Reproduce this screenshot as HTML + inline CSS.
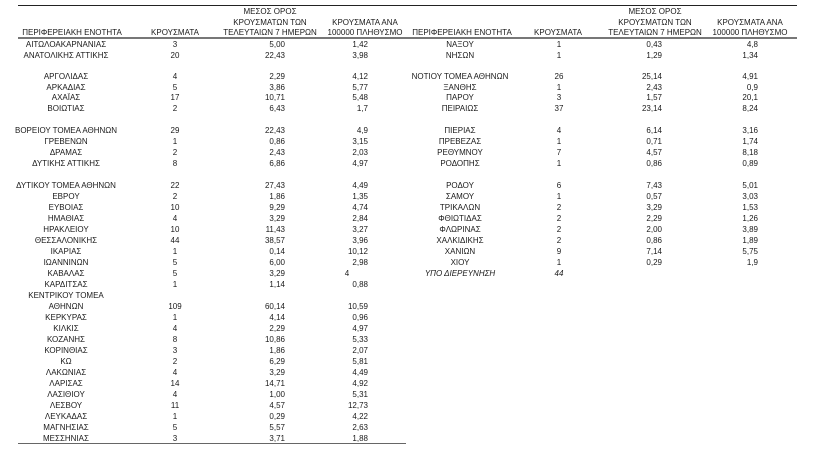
<!DOCTYPE html>
<html><head><meta charset="utf-8"><style>
body{margin:0;width:819px;height:465px;background:#fff;position:relative;overflow:hidden;font-family:"Liberation Sans","DejaVu Sans",sans-serif;font-size:8px;color:#1a1a1a}
.r{position:absolute;left:0;width:819px;height:11px;line-height:11px}
.r span{position:absolute;top:0;white-space:nowrap}
.n{left:0;width:132px;text-align:center}
.c{left:145px;width:60px;text-align:center}
.m{left:235px;width:50px;text-align:right}
.p{left:318px;width:50px;text-align:right}
.N{left:394px;width:132px;text-align:center}
.C{left:529px;width:60px;text-align:center}
.M{left:612px;width:50px;text-align:right}
.P{left:708px;width:50px;text-align:right}
.h{position:absolute;text-align:center;line-height:10.5px;white-space:nowrap}
.line{position:absolute;background:#333}
</style></head><body>
<div class="line" style="left:18px;top:5px;width:779px;height:1px;background:#222"></div>
<div class="line" style="left:18px;top:37px;width:779px;height:2px;background:#777"></div>
<div class="line" style="left:18px;top:443px;width:388px;height:1px;background:#666"></div>

<div class="h" style="left:12px;width:120px;top:28px">ΠΕΡΙΦΕΡΕΙΑΚΗ ΕΝΟΤΗΤΑ</div>
<div class="h" style="left:135px;width:80px;top:28px">ΚΡΟΥΣΜΑΤΑ</div>
<div class="h" style="left:220px;width:100px;top:7px">ΜΕΣΟΣ ΟΡΟΣ<br>ΚΡΟΥΣΜΑΤΩΝ ΤΩΝ<br>ΤΕΛΕΥΤΑΙΩΝ 7 ΗΜΕΡΩΝ</div>
<div class="h" style="left:315px;width:100px;top:17.5px">ΚΡΟΥΣΜΑΤΑ ΑΝΑ<br>100000 ΠΛΗΘΥΣΜΟ</div>

<div class="h" style="left:402px;width:120px;top:28px">ΠΕΡΙΦΕΡΕΙΑΚΗ ΕΝΟΤΗΤΑ</div>
<div class="h" style="left:518px;width:80px;top:28px">ΚΡΟΥΣΜΑΤΑ</div>
<div class="h" style="left:605px;width:100px;top:7px">ΜΕΣΟΣ ΟΡΟΣ<br>ΚΡΟΥΣΜΑΤΩΝ ΤΩΝ<br>ΤΕΛΕΥΤΑΙΩΝ 7 ΗΜΕΡΩΝ</div>
<div class="h" style="left:700px;width:100px;top:17.5px">ΚΡΟΥΣΜΑΤΑ ΑΝΑ<br>100000 ΠΛΗΘΥΣΜΟ</div>

<div class="r" style="top:38.5px"><span class="n">ΑΙΤΩΛΟΑΚΑΡΝΑΝΙΑΣ</span><span class="c">3</span><span class="m">5,00</span><span class="p">1,42</span><span class="N">ΝΑΞΟΥ</span><span class="C">1</span><span class="M">0,43</span><span class="P">4,8</span></div>
<div class="r" style="top:49.5px"><span class="n">ΑΝΑΤΟΛΙΚΗΣ ΑΤΤΙΚΗΣ</span><span class="c">20</span><span class="m">22,43</span><span class="p">3,98</span><span class="N">ΝΗΣΩΝ</span><span class="C">1</span><span class="M">1,29</span><span class="P">1,34</span></div>
<div class="r" style="top:70.5px"><span class="n">ΑΡΓΟΛΙΔΑΣ</span><span class="c">4</span><span class="m">2,29</span><span class="p">4,12</span><span class="N">ΝΟΤΙΟΥ ΤΟΜΕΑ ΑΘΗΝΩΝ</span><span class="C">26</span><span class="M">25,14</span><span class="P">4,91</span></div>
<div class="r" style="top:81.5px"><span class="n">ΑΡΚΑΔΙΑΣ</span><span class="c">5</span><span class="m">3,86</span><span class="p">5,77</span><span class="N">ΞΑΝΘΗΣ</span><span class="C">1</span><span class="M">2,43</span><span class="P">0,9</span></div>
<div class="r" style="top:92px"><span class="n">ΑΧΑΪΑΣ</span><span class="c">17</span><span class="m">10,71</span><span class="p">5,48</span><span class="N">ΠΑΡΟΥ</span><span class="C">3</span><span class="M">1,57</span><span class="P">20,1</span></div>
<div class="r" style="top:103px"><span class="n">ΒΟΙΩΤΙΑΣ</span><span class="c">2</span><span class="m">6,43</span><span class="p">1,7</span><span class="N">ΠΕΙΡΑΙΩΣ</span><span class="C">37</span><span class="M">23,14</span><span class="P">8,24</span></div>
<div class="r" style="top:125px"><span class="n">ΒΟΡΕΙΟΥ ΤΟΜΕΑ ΑΘΗΝΩΝ</span><span class="c">29</span><span class="m">22,43</span><span class="p">4,9</span><span class="N">ΠΙΕΡΙΑΣ</span><span class="C">4</span><span class="M">6,14</span><span class="P">3,16</span></div>
<div class="r" style="top:136px"><span class="n">ΓΡΕΒΕΝΩΝ</span><span class="c">1</span><span class="m">0,86</span><span class="p">3,15</span><span class="N">ΠΡΕΒΕΖΑΣ</span><span class="C">1</span><span class="M">0,71</span><span class="P">1,74</span></div>
<div class="r" style="top:147px"><span class="n">ΔΡΑΜΑΣ</span><span class="c">2</span><span class="m">2,43</span><span class="p">2,03</span><span class="N">ΡΕΘΥΜΝΟΥ</span><span class="C">7</span><span class="M">4,57</span><span class="P">8,18</span></div>
<div class="r" style="top:158px"><span class="n">ΔΥΤΙΚΗΣ ΑΤΤΙΚΗΣ</span><span class="c">8</span><span class="m">6,86</span><span class="p">4,97</span><span class="N">ΡΟΔΟΠΗΣ</span><span class="C">1</span><span class="M">0,86</span><span class="P">0,89</span></div>
<div class="r" style="top:179.5px"><span class="n">ΔΥΤΙΚΟΥ ΤΟΜΕΑ ΑΘΗΝΩΝ</span><span class="c">22</span><span class="m">27,43</span><span class="p">4,49</span><span class="N">ΡΟΔΟΥ</span><span class="C">6</span><span class="M">7,43</span><span class="P">5,01</span></div>
<div class="r" style="top:190.5px"><span class="n">ΕΒΡΟΥ</span><span class="c">2</span><span class="m">1,86</span><span class="p">1,35</span><span class="N">ΣΑΜΟΥ</span><span class="C">1</span><span class="M">0,57</span><span class="P">3,03</span></div>
<div class="r" style="top:201.5px"><span class="n">ΕΥΒΟΙΑΣ</span><span class="c">10</span><span class="m">9,29</span><span class="p">4,74</span><span class="N">ΤΡΙΚΑΛΩΝ</span><span class="C">2</span><span class="M">3,29</span><span class="P">1,53</span></div>
<div class="r" style="top:212.5px"><span class="n">ΗΜΑΘΙΑΣ</span><span class="c">4</span><span class="m">3,29</span><span class="p">2,84</span><span class="N">ΦΘΙΩΤΙΔΑΣ</span><span class="C">2</span><span class="M">2,29</span><span class="P">1,26</span></div>
<div class="r" style="top:223.5px"><span class="n">ΗΡΑΚΛΕΙΟΥ</span><span class="c">10</span><span class="m">11,43</span><span class="p">3,27</span><span class="N">ΦΛΩΡΙΝΑΣ</span><span class="C">2</span><span class="M">2,00</span><span class="P">3,89</span></div>
<div class="r" style="top:234.5px"><span class="n">ΘΕΣΣΑΛΟΝΙΚΗΣ</span><span class="c">44</span><span class="m">38,57</span><span class="p">3,96</span><span class="N">ΧΑΛΚΙΔΙΚΗΣ</span><span class="C">2</span><span class="M">0,86</span><span class="P">1,89</span></div>
<div class="r" style="top:245.5px"><span class="n">ΙΚΑΡΙΑΣ</span><span class="c">1</span><span class="m">0,14</span><span class="p">10,12</span><span class="N">ΧΑΝΙΩΝ</span><span class="C">9</span><span class="M">7,14</span><span class="P">5,75</span></div>
<div class="r" style="top:256.5px"><span class="n">ΙΩΑΝΝΙΝΩΝ</span><span class="c">5</span><span class="m">6,00</span><span class="p">2,98</span><span class="N">ΧΙΟΥ</span><span class="C">1</span><span class="M">0,29</span><span class="P">1,9</span></div>
<div class="r" style="top:267.5px"><span class="n">ΚΑΒΑΛΑΣ</span><span class="c">5</span><span class="m">3,29</span><span class="p" style="left:322px;width:50px;text-align:center">4</span><span class="N" style="font-style:italic">ΥΠΟ ΔΙΕΡΕΥΝΗΣΗ</span><span class="C" style="font-style:italic">44</span></div>
<div class="r" style="top:278.5px"><span class="n">ΚΑΡΔΙΤΣΑΣ</span><span class="c">1</span><span class="m">1,14</span><span class="p">0,88</span></div>
<div class="r" style="top:289.5px"><span class="n">ΚΕΝΤΡΙΚΟΥ ΤΟΜΕΑ</span></div>
<div class="r" style="top:300.5px"><span class="n">ΑΘΗΝΩΝ</span><span class="c">109</span><span class="m">60,14</span><span class="p">10,59</span></div>
<div class="r" style="top:311.5px"><span class="n">ΚΕΡΚΥΡΑΣ</span><span class="c">1</span><span class="m">4,14</span><span class="p">0,96</span></div>
<div class="r" style="top:322.5px"><span class="n">ΚΙΛΚΙΣ</span><span class="c">4</span><span class="m">2,29</span><span class="p">4,97</span></div>
<div class="r" style="top:333.5px"><span class="n">ΚΟΖΑΝΗΣ</span><span class="c">8</span><span class="m">10,86</span><span class="p">5,33</span></div>
<div class="r" style="top:344.5px"><span class="n">ΚΟΡΙΝΘΙΑΣ</span><span class="c">3</span><span class="m">1,86</span><span class="p">2,07</span></div>
<div class="r" style="top:355.5px"><span class="n">ΚΩ</span><span class="c">2</span><span class="m">6,29</span><span class="p">5,81</span></div>
<div class="r" style="top:366.5px"><span class="n">ΛΑΚΩΝΙΑΣ</span><span class="c">4</span><span class="m">3,29</span><span class="p">4,49</span></div>
<div class="r" style="top:377.5px"><span class="n">ΛΑΡΙΣΑΣ</span><span class="c">14</span><span class="m">14,71</span><span class="p">4,92</span></div>
<div class="r" style="top:388.5px"><span class="n">ΛΑΣΙΘΙΟΥ</span><span class="c">4</span><span class="m">1,00</span><span class="p">5,31</span></div>
<div class="r" style="top:399.5px"><span class="n">ΛΕΣΒΟΥ</span><span class="c">11</span><span class="m">4,57</span><span class="p">12,73</span></div>
<div class="r" style="top:410.5px"><span class="n">ΛΕΥΚΑΔΑΣ</span><span class="c">1</span><span class="m">0,29</span><span class="p">4,22</span></div>
<div class="r" style="top:421.5px"><span class="n">ΜΑΓΝΗΣΙΑΣ</span><span class="c">5</span><span class="m">5,57</span><span class="p">2,63</span></div>
<div class="r" style="top:432.5px"><span class="n">ΜΕΣΣΗΝΙΑΣ</span><span class="c">3</span><span class="m">3,71</span><span class="p">1,88</span></div>
</body></html>
